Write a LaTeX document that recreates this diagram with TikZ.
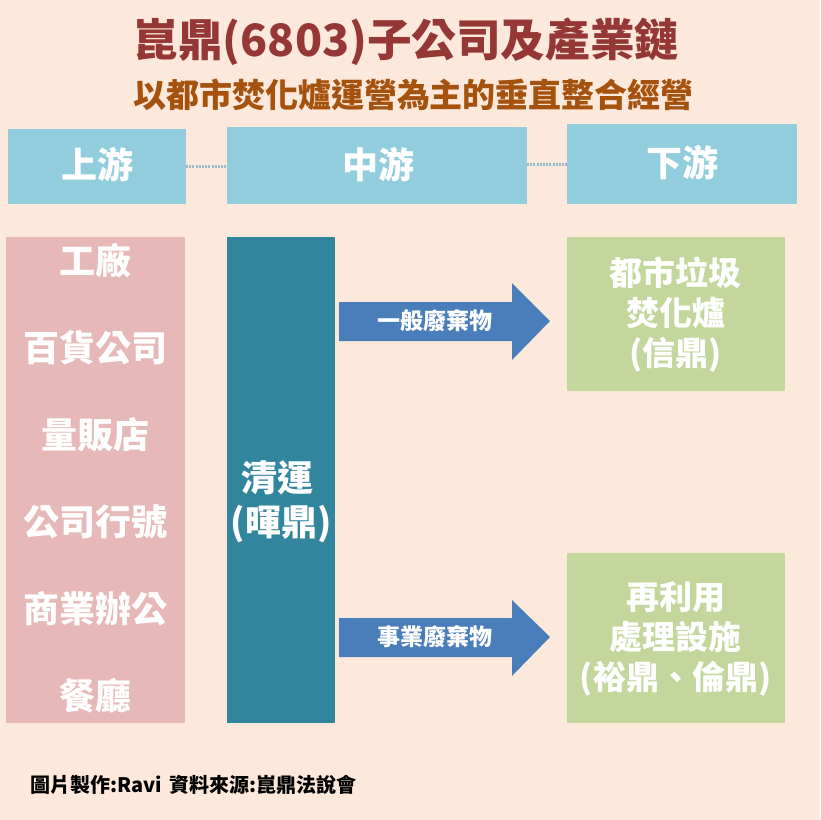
\documentclass[tikz,border=0pt]{standalone}
\usepackage{fontspec}
\setmainfont{Noto Sans CJK TC}[BoldFont={Noto Sans CJK TC Black}]
\definecolor{bgc}{HTML}{FDE9DC}
\definecolor{titlec}{HTML}{953735}
\definecolor{subc}{HTML}{A5520F}
\definecolor{headc}{HTML}{92CDDD}
\definecolor{pinkc}{HTML}{E6B8B7}
\definecolor{tealc}{HTML}{31859C}
\definecolor{greenc}{HTML}{C3D69B}
\definecolor{bluec}{HTML}{4A7EBB}
\definecolor{dotc}{HTML}{9DB9CE}
\tikzset{x=1pt,y=-1pt,
 box/.style={inner sep=0pt,outer sep=0pt,anchor=north west},
 wt/.style={text=white,font=\fontsize{36}{44}\bfseries,align=center,anchor=center,inner sep=0pt},
 gt/.style={wt,font=\fontsize{33}{40}\bfseries},
 arrowlab/.style={text=white,font=\fontsize{23}{23}\bfseries,anchor=center,inner sep=0pt},
 conn/.style={draw=dotc,line width=3pt,dash pattern=on 2pt off 1.2pt}}
\newcommand{\bx}[6]{\node[box,fill=#6,minimum width=#4pt,minimum height=#5pt] (#1) at (#2,#3) {};}
\begin{document}
\begin{tikzpicture}
\useasboundingbox (0,0) rectangle (820,820);
\fill[bgc] (0,0) rectangle (820,820);
\node[text=titlec,font=\fontsize{44.6}{44.6}\bfseries,inner sep=0pt] (title) at (406.5,42) {崑鼎(6803)子公司及產業鏈};
\node[text=subc,font=\fontsize{33}{33}\bfseries,inner sep=0pt] (sub) at (413.5,95) {以都市焚化爐運營為主的垂直整合經營};
\bx{hu}{8}{129}{178}{75}{headc}
\bx{hm}{227}{127}{300}{77}{headc}
\bx{hd}{567}{124}{230}{80}{headc}
\coordinate (c1) at (hu.east|-0,166);
\coordinate (c2) at (hm.west|-0,166);
\coordinate (c3) at (hm.east|-0,164);
\coordinate (c4) at (hd.west|-0,164);
\draw[conn] (c1) -- (c2);
\draw[conn] (c3) -- (c4);
\node[wt] (tu) at (97,165) {上游};
\node[wt] (tm) at (378,165) {中游};
\node[wt] (td) at (682,163) {下游};
\bx{up}{6}{237}{179}{486}{pinkc}
\node[wt] (u1) at (95.5,261) {工廠};
\node[wt] (u2) at (95.5,348) {百貨公司};
\node[wt] (u3) at (95.5,435) {量販店};
\node[wt] (u4) at (95.5,522) {公司行號};
\node[wt] (u5) at (95.5,609) {商業辦公};
\node[wt] (u6) at (95.5,696) {餐廳};
\bx{mid}{227}{237}{108}{486}{tealc}
\node[wt] (mt) at (281,502) {\hspace{-7pt}清運\\(暉鼎)};
\bx{d1}{567}{237}{218}{154}{greenc}
\bx{d2}{567}{553}{218}{170}{greenc}
\node[gt] (d1t) at (675.5,315) {都市垃圾\\焚化爐\\(信鼎)};
\node[gt] (d2t) at (675.5,639) {再利用\\處理設施\\(裕鼎、倫鼎)};
\fill[bluec] (339,302) -- (512,302) -- (512,283) -- (550,321) -- (512,360) -- (512,341) -- (339,341) -- cycle;
\fill[bluec] (339,618) -- (512,618) -- (512,600) -- (550,637) -- (512,676) -- (512,657) -- (339,657) -- cycle;
\node[arrowlab] (a1) at (435,321) {一般廢棄物};
\node[arrowlab] (a2) at (435,637) {事業廢棄物};
\node[font=\fontsize{20}{20}\bfseries,text=black,anchor=west,inner sep=0pt] (foot) at (30,785) {圖片製作:Ravi\hspace{7.5pt}資料來源:崑鼎法說會};
\end{tikzpicture}
\end{document}
